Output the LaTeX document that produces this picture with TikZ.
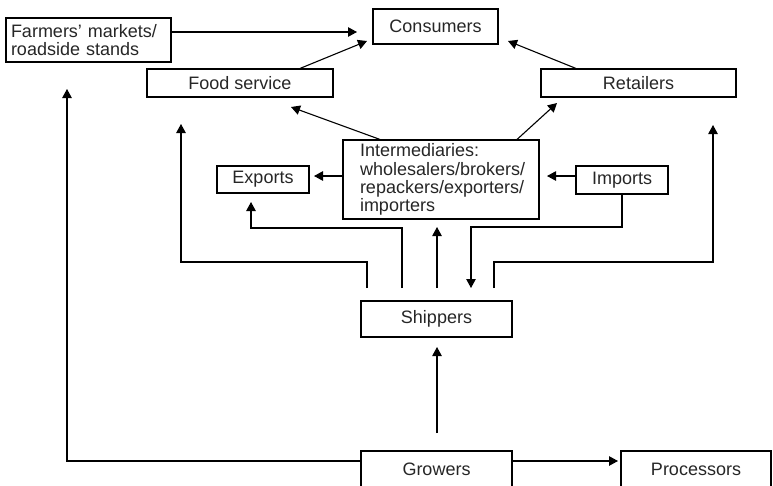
\documentclass[tikz,border=0pt]{standalone}
\usepackage{fontspec}
\setmainfont{Liberation Sans}
\usetikzlibrary{arrows.meta}
\begin{document}
\begin{tikzpicture}[x=1pt,y=-1pt,
  box/.style={draw=black,line width=1.1pt,rectangle,inner sep=0pt,text=black!85,
    font=\fontsize{18}{18.2}\selectfont},
  arr/.style={line width=1.1pt,-{Triangle[length=9pt,width=9.5pt]}},
  ln/.style={line width=1.1pt}]
\useasboundingbox (0,0) rectangle (773,485);
% nodes
\node[box,minimum width=165pt,minimum height=44pt,align=left,text width=155pt] (farmers) at (88.5,40) {Farmers’ markets/\\roadside stands};
\node[box,minimum width=125pt,minimum height=35pt] (consumers) at (435.5,26.5) {Consumers};
\node[box,minimum width=186pt,minimum height=28pt] (food) at (240,83) {Food service};
\node[box,minimum width=195pt,minimum height=28pt] (retail) at (638.5,83) {Retailers};
\node[box,minimum width=196pt,minimum height=79pt,align=left,text width=162pt] (inter) at (441,179.5) {Intermediaries:\\wholesalers/brokers/\\repackers/exporters/\\importers};
\node[box,minimum width=92pt,minimum height=27pt] (exports) at (263,179.5) {Exports};
\node[box,minimum width=92pt,minimum height=28pt] (imports) at (622,180) {Imports};
\node[box,minimum width=151pt,minimum height=36pt] (shippers) at (436.5,319) {Shippers};
\node[box,minimum width=151pt,minimum height=36pt] (growers) at (436.5,469) {Growers};
\node[box,minimum width=150pt,minimum height=36pt] (processors) at (696,469) {Processors};
% coordinates
\coordinate (c1) at (357,32);
\coordinate (f1) at (300,69);  \coordinate (f2) at (367,41);
\coordinate (r1) at (576,69);  \coordinate (r2) at (508,41);
\coordinate (i1) at (380,140); \coordinate (i2) at (291,107);
\coordinate (i3) at (517,140); \coordinate (i4) at (557,103);
\coordinate (e1) at (314,176);
\coordinate (m1) at (547,176);
\coordinate (sa) at (367,288); \coordinate (sa1) at (367,262); \coordinate (sa2) at (181,262); \coordinate (sa3) at (181,124);
\coordinate (sb) at (402,288); \coordinate (sb1) at (402,228); \coordinate (sb2) at (251,228); \coordinate (sb3) at (251,202);
\coordinate (sc) at (437,288); \coordinate (sc1) at (437,227);
\coordinate (md1) at (622,227); \coordinate (md2) at (471,227); \coordinate (md3) at (471,288);
\coordinate (se) at (494,288); \coordinate (se1) at (494,262); \coordinate (se2) at (713,262); \coordinate (se3) at (713,125);
\coordinate (g1) at (437,433); \coordinate (g2) at (437,347);
\coordinate (p1) at (618,461);
\coordinate (fm1) at (67,461); \coordinate (fm2) at (67,89);
% connectors
\draw[arr] (farmers.east |- c1) -- (c1);
\draw[arr] (food.north -| f1) -- (f2);
\draw[arr] (retail.north -| r1) -- (r2);
\draw[arr] (inter.north -| i1) -- (i2);
\draw[arr] (inter.north -| i3) -- (i4);
\draw[arr] (inter.west |- e1) -- (e1);
\draw[arr] (imports.west |- m1) -- (m1);
\draw[arr] (sa) -- (sa1) -- (sa2) -- (sa3);
\draw[arr] (sb) -- (sb1) -- (sb2) -- (sb3);
\draw[arr] (sc) -- (sc1);
\draw[arr] (imports.south) -- (md1) -- (md2) -- (md3);
\draw[arr] (se) -- (se1) -- (se2) -- (se3);
\draw[arr] (g1) -- (g2);
\draw[arr] (growers.east |- p1) -- (p1);
\draw[arr] (growers.west |- fm1) -- (fm1) -- (fm2);
\end{tikzpicture}
\end{document}
